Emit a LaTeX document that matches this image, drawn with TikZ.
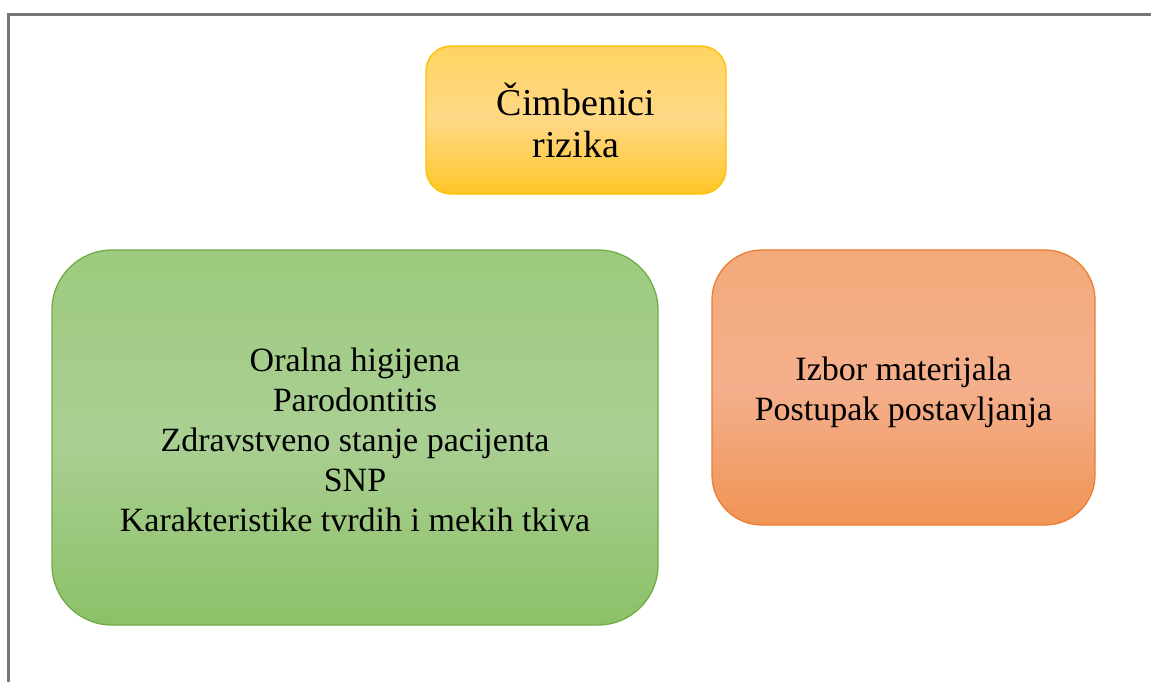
\documentclass[tikz,border=0pt]{standalone}
\usepackage{fontspec}
\setmainfont{Liberation Serif}
\newfontfamily\boxfont{Liberation Serif}
\definecolor{frameg}{HTML}{777777}
\definecolor{ytop}{HTML}{FED462}
\definecolor{ymid}{HTML}{FFD887}
\definecolor{ybot}{HTML}{FFC626}
\definecolor{yline}{HTML}{FFC000}
\definecolor{gtop}{HTML}{9DCA7E}
\definecolor{gmid}{HTML}{AACF93}
\definecolor{gbot}{HTML}{8CC168}
\definecolor{gline}{HTML}{70AD47}
\definecolor{otop}{HTML}{F3A979}
\definecolor{omid}{HTML}{F4AF8C}
\definecolor{obot}{HTML}{F09455}
\definecolor{oline}{HTML}{ED7D31}
\tikzset{
  boxbase/.style={rectangle, draw, line width=1.3pt, inner sep=0pt, align=center, text=black},
  ybox/.style={boxbase, draw=yline, top color=ytop, bottom color=ybot, middle color=ymid,
    rounded corners=25pt, minimum width=300pt, minimum height=148pt},
  gbox/.style={boxbase, draw=gline, top color=gtop, bottom color=gbot, middle color=gmid,
    rounded corners=60pt, minimum width=606pt, minimum height=375pt},
  obox/.style={boxbase, draw=oline, top color=otop, bottom color=obot, middle color=omid,
    rounded corners=50pt, minimum width=383pt, minimum height=275pt},
  ytext/.style={align=center, inner sep=0pt, font={\boxfont\fontsize{38}{42}\selectfont}},
  btext/.style={align=center, inner sep=0pt, font={\boxfont\fontsize{34}{40}\selectfont}},
  framel/.style={draw=frameg, line width=2.2pt}
}
\begin{document}
\begin{tikzpicture}[x=1pt,y=-1pt]
\useasboundingbox (0,0) rectangle (1151,682);
\coordinate (fbl) at (8.5,682);
\coordinate (ftl) at (8.5,14.5);
\coordinate (ftr) at (1151,14.5);
\draw[framel] (fbl) -- (ftl) -- (ftr);
\node[ybox] (risk) at (576,120) {};
\node[ytext] (risktxt) at (576,120) {Čimbenici\\rizika};
\node[gbox] (patient) at (355,437.5) {};
\node[btext] (patienttxt) at (355,440) {Oralna higijena\\Parodontitis\\Zdravstveno stanje pacijenta\\SNP\\Karakteristike tvrdih i mekih tkiva};
\node[obox] (material) at (903.5,387.5) {};
\node[btext] (materialtxt) at (903.5,392) {Izbor materijala\\Postupak postavljanja};
\end{tikzpicture}
\end{document}
